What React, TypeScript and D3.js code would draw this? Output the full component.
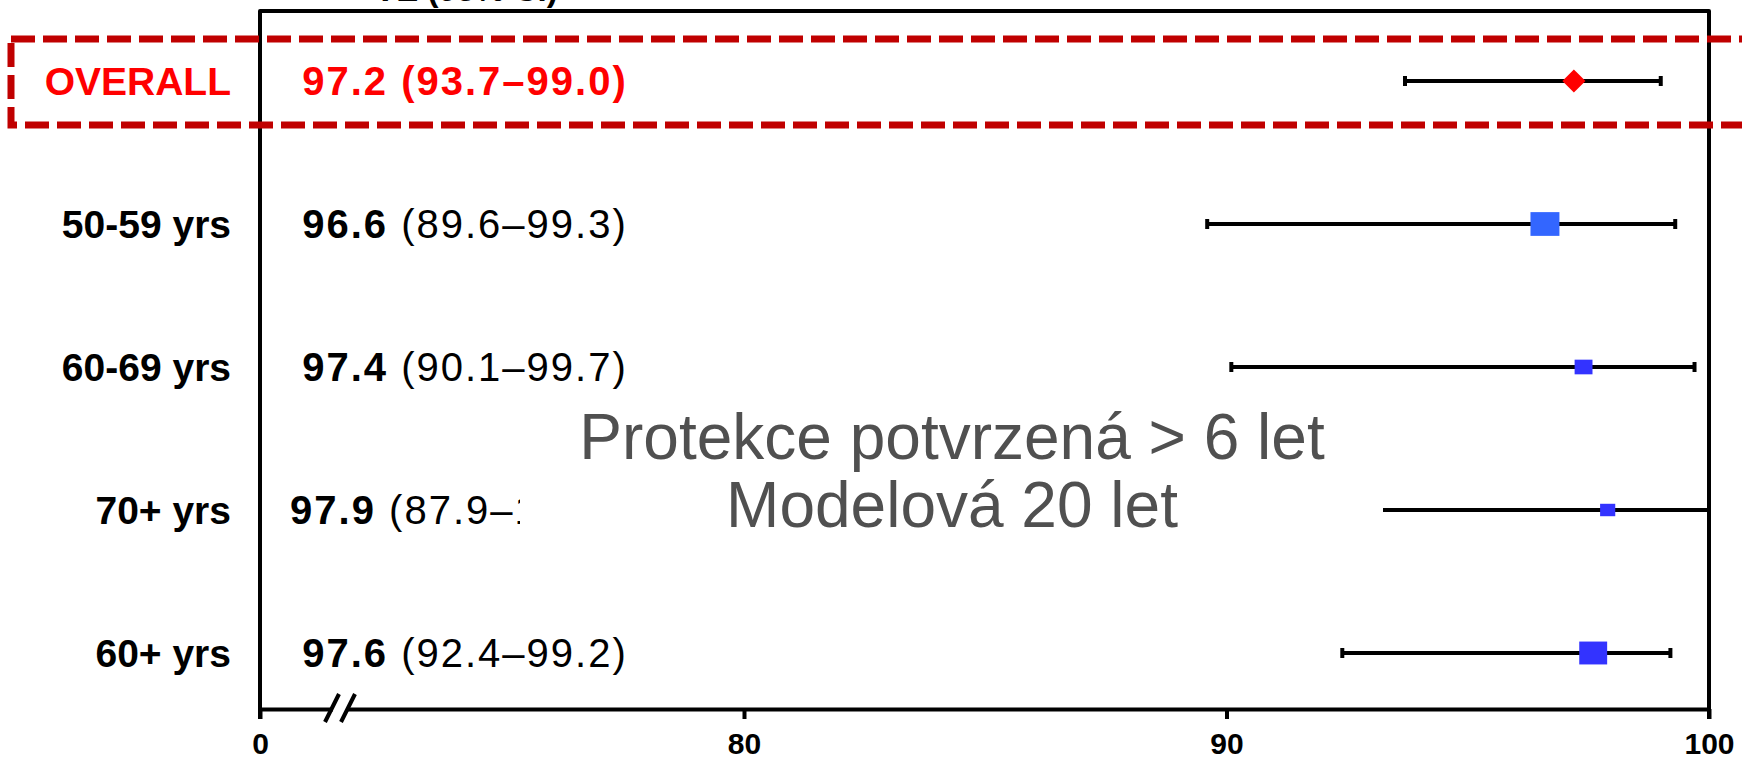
import React, { useEffect, useRef } from "react";
import * as d3 from "d3";

// forest plot data
const groups = ["OVERALL", "50-59 yrs", "60-69 yrs", "70+ yrs", "60+ yrs"];
const ve = [97.2, 96.6, 97.4, 97.9, 97.6];
const ciLow = [93.7, 89.6, 90.1, 87.9, 92.4];
const ciHigh = [99.0, 99.3, 99.7, 100.0, 99.2];
const weights = [0, 84, 32, 23, 78]; // relative weight for marker size
const tickValues = [0, 80, 90, 100];
const overlayLines = ["Protekce potvrzená > 6 let", "Modelová 20 let"];
const columnTitle = "VE (95% CI)";

const width = 1742;
const height = 760;
const FONT = "'Liberation Sans', Arial, sans-serif";

export default function App() {
  const ref = useRef<SVGSVGElement>(null);

  useEffect(() => {
    const svg = d3.select(ref.current);
    svg.selectAll("*").remove();

    const x = d3.scaleLinear().domain([0, 80, 100]).range([260, 744, 1709]);
    const y = d3.scalePoint().domain(groups).range([81, 653]);
    const size = d3.scaleSqrt().domain([0, 100]).range([0, 31.6]);
    const color = d3
      .scaleOrdinal<string>()
      .domain(groups)
      .range(["#FF0000", "#3366FF", "#3333FF", "#3333FF", "#3333FF"]);

    const rows = groups.map((g, i) => ({
      g,
      ve: ve[i],
      lo: ciLow[i],
      hi: ciHigh[i],
      w: weights[i],
      i,
    }));

    const top = 11;
    const bottom = 709;
    const left = x(0);
    const right = x(100);

    // column title (mostly cut off at the top)
    svg
      .append("text")
      .attr("x", 466)
      .attr("y", 1)
      .attr("text-anchor", "middle")
      .attr("font-family", FONT)
      .attr("font-weight", "bold")
      .attr("font-size", 33)
      .text(columnTitle);

    // frame
    svg
      .append("path")
      .attr(
        "d",
        `M${left},${bottom + 10}V${top}H${right}V${bottom + 10}`
      )
      .attr("fill", "none")
      .attr("stroke", "#000")
      .attr("stroke-width", 4)
      .attr("stroke-linejoin", "round");

    // x axis
    const xAxis = d3
      .axisBottom(x)
      .tickValues(tickValues)
      .tickSize(10)
      .tickSizeOuter(0)
      .tickPadding(14)
      .tickFormat(d3.format("d"));
    const gx = svg
      .append("g")
      .attr("transform", `translate(0, ${bottom})`)
      .call(xAxis);
    gx.select(".domain").attr("stroke-width", 4);
    gx.selectAll(".tick line").attr("stroke-width", 4);
    gx.selectAll(".tick text")
      .attr("font-family", FONT)
      .attr("font-weight", "bold")
      .attr("font-size", 30)
      .attr("fill", "#000");

    // axis break
    const bx = left + 80;
    svg
      .append("rect")
      .attr("x", bx - 7)
      .attr("y", bottom - 4)
      .attr("width", 14)
      .attr("height", 8)
      .attr("fill", "#fff");
    [-8, 8].forEach((dx) => {
      svg
        .append("line")
        .attr("x1", bx + dx - 7)
        .attr("y1", bottom + 13)
        .attr("x2", bx + dx + 7)
        .attr("y2", bottom - 15)
        .attr("stroke", "#000")
        .attr("stroke-width", 4);
    });

    // row labels
    svg
      .append("g")
      .selectAll("text")
      .data(rows)
      .join("text")
      .attr("x", 231)
      .attr("y", (d) => y(d.g)!)
      .attr("dy", "0.35em")
      .attr("text-anchor", "end")
      .attr("font-family", FONT)
      .attr("font-weight", "bold")
      .attr("font-size", 39)
      .attr("fill", (d) => (d.i === 0 ? "#FF0000" : "#000"))
      .text((d) => d.g);

    // estimate text
    const est = svg
      .append("g")
      .selectAll("text")
      .data(rows)
      .join("text")
      .attr("x", 465)
      .attr("y", (d) => y(d.g)!)
      .attr("dy", "0.35em")
      .attr("text-anchor", "middle")
      .attr("font-family", FONT)
      .attr("font-size", 40)
      .attr("letter-spacing", 2)
      .attr("fill", (d) => (d.i === 0 ? "#FF0000" : "#000"));
    est
      .append("tspan")
      .attr("font-weight", "bold")
      .text((d) => d.ve.toFixed(1) + " ");
    est
      .append("tspan")
      .attr("font-weight", (d) => (d.i === 0 ? "bold" : "normal"))
      .text((d) => `(${d.lo.toFixed(1)}–${d.hi.toFixed(1)})`);

    // whiskers
    const ci = svg.append("g").attr("stroke", "#000").attr("stroke-width", 4);
    ci.selectAll("line.ci")
      .data(rows)
      .join("line")
      .attr("class", "ci")
      .attr("x1", (d) => x(d.lo))
      .attr("x2", (d) => x(d.hi))
      .attr("y1", (d) => y(d.g)!)
      .attr("y2", (d) => y(d.g)!);
    ci.selectAll("line.capl")
      .data(rows)
      .join("line")
      .attr("class", "capl")
      .attr("x1", (d) => x(d.lo))
      .attr("x2", (d) => x(d.lo))
      .attr("y1", (d) => y(d.g)! - 5)
      .attr("y2", (d) => y(d.g)! + 5);
    ci.selectAll("line.caph")
      .data(rows.filter((d) => d.hi < 100))
      .join("line")
      .attr("class", "caph")
      .attr("x1", (d) => x(d.hi))
      .attr("x2", (d) => x(d.hi))
      .attr("y1", (d) => y(d.g)! - 5)
      .attr("y2", (d) => y(d.g)! + 5);

    // point estimates
    svg
      .append("g")
      .selectAll("rect")
      .data(rows.filter((d) => d.i > 0))
      .join("rect")
      .attr("x", (d) => x(d.ve) - size(d.w) / 2)
      .attr("y", (d) => y(d.g)! - (size(d.w) * 0.82) / 2)
      .attr("width", (d) => size(d.w))
      .attr("height", (d) => size(d.w) * 0.82)
      .attr("fill", (d) => color(d.g));
    const ov = rows[0];
    svg
      .append("path")
      .attr("d", d3.symbol(d3.symbolDiamond2, 340)())
      .attr("transform", `translate(${x(ov.ve)}, ${y(ov.g)})`)
      .attr("fill", color(ov.g));

    // overlay note
    svg
      .append("rect")
      .attr("x", 520)
      .attr("y", 395)
      .attr("width", 863)
      .attr("height", 150)
      .attr("fill", "#fff");
    svg
      .append("g")
      .selectAll("text")
      .data(overlayLines)
      .join("text")
      .attr("x", 952)
      .attr("y", (d, i) => 459 + i * 68)
      .attr("text-anchor", "middle")
      .attr("font-family", FONT)
      .attr("font-size", 64)
      .attr("fill", "#505050")
      .text((d) => d);

    // highlight box around overall row
    svg
      .append("rect")
      .attr("x", 11)
      .attr("y", 39)
      .attr("width", 1800)
      .attr("height", 86)
      .attr("fill", "none")
      .attr("stroke", "#C00000")
      .attr("stroke-width", 7)
      .attr("stroke-dasharray", "24 8");
  }, []);

  return (
    <svg
      ref={ref}
      width={width}
      height={height}
      style={{ position: "absolute", left: 0, top: 0, background: "#fff" }}
    ></svg>
  );
}
